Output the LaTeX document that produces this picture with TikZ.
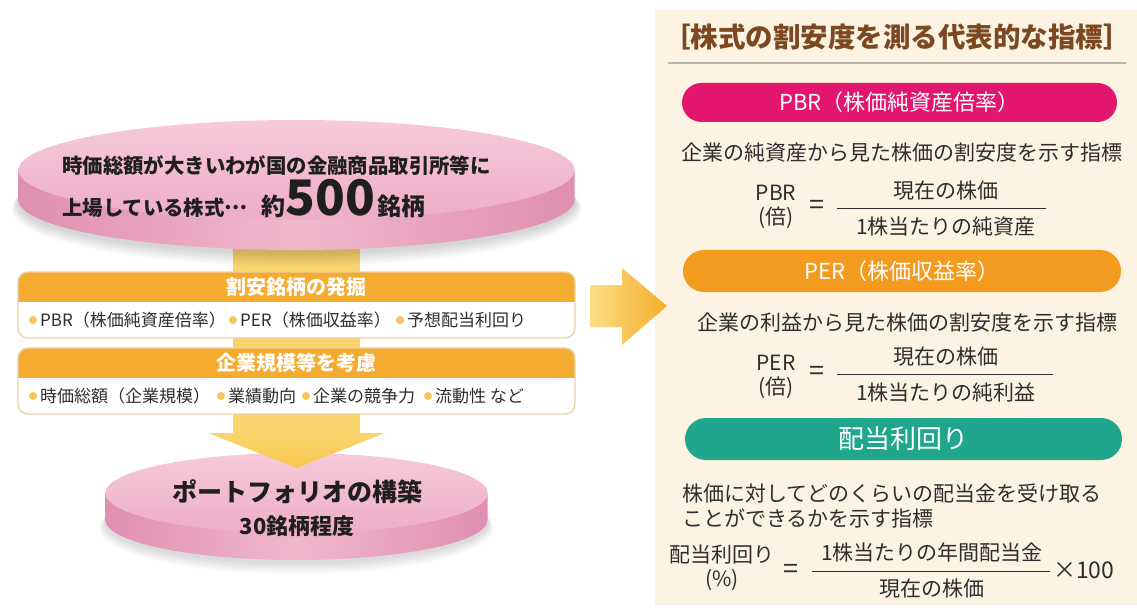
\documentclass[tikz,border=0pt]{standalone}
\usepackage{fontspec}
\setmainfont{Noto Sans CJK JP}
\newcommand\fsz[1]{\fontsize{#1}{#1}\selectfont}
\definecolor{pkTopA}{HTML}{F7CADB}
\definecolor{pkTopB}{HTML}{EDADC6}
\definecolor{pkRimA}{HTML}{E08FB0}
\definecolor{pkRimB}{HTML}{F0B8CD}
\definecolor{yelA}{HTML}{FAD56E}
\definecolor{yelB}{HTML}{F8C84E}
\definecolor{hdr}{HTML}{F5AA30}
\definecolor{boxline}{HTML}{EDD3A0}
\definecolor{dotc}{HTML}{F7C55A}
\definecolor{cream}{HTML}{FDF3E2}
\definecolor{brownT}{HTML}{7B4821}
\definecolor{pbrc}{HTML}{E2166F}
\definecolor{perc}{HTML}{F39B1F}
\definecolor{divc}{HTML}{1FA68D}
\definecolor{txt}{HTML}{2E2E2E}
\definecolor{rulec}{HTML}{B9B2A8}
\definecolor{arrA}{HTML}{FCDD84}
\definecolor{arrB}{HTML}{F4AE2C}
\begin{document}
\begin{tikzpicture}[x=1pt,y=-1pt,
  tx/.style={text=txt, inner sep=0pt, font=\fsz{21}},
  fm/.style={text=txt, inner sep=0pt, font=\fsz{21}},
  eqs/.style={text=txt, inner sep=0pt, font=\fsz{27}},
  itm/.style={text=txt, inner sep=0pt, font=\fsz{17}, anchor=west},
  hd/.style={text=white, inner sep=0pt, font=\bfseries\fsz{20}},
  pill/.style={text=white, inner sep=0pt, font=\fsz{22}},
  dk/.style={text=black!88, inner sep=0pt},
  bul/.style={fill=dotc}]
\useasboundingbox (0,0) rectangle (1137,612);
\fill[white] (0,0) rectangle (1137,612);

% ---------- right panel ----------
\fill[cream] (655,10) rectangle (1137,605);
\node[text=brownT, inner sep=0pt, font=\bfseries\fsz{27.5}] (title) at (897,37) {［株式の割安度を測る代表的な指標］};
\coordinate (ruleL) at (668,63);
\coordinate (ruleR) at (1126,63);
\draw[rulec, line width=1.2pt] (ruleL) -- (ruleR);

% PBR
\fill[pbrc, rounded corners=19.5] (682,83) rectangle (1117,122);
\node[pill] (pbrh) at (899.5,102.5) {PBR（株価純資産倍率）};
\node[tx] (pbrd) at (902,153) {企業の純資産から見た株価の割安度を示す指標};
\node[fm] (pbrl1) at (776,193) {PBR};
\node[fm] (pbrl2) at (776,218) {(倍)};
\node[eqs] (pbreq) at (817,207) {=};
\node[fm] (pbrn) at (946,191) {現在の株価};
\node[fm] (pbrdn) at (946,227) {1株当たりの純資産};
\coordinate (pbrA) at (837,208);
\coordinate (pbrB) at (1046,208);
\draw[txt, line width=0.9pt] (pbrA) -- (pbrB);

% PER
\fill[perc, rounded corners=21] (683,250) rectangle (1121,292);
\node[pill] (perh) at (902,271) {PER（株価収益率）};
\node[tx] (perd) at (907,323) {企業の利益から見た株価の割安度を示す指標};
\node[fm] (perl1) at (776,363) {PER};
\node[fm] (perl2) at (776,388) {(倍)};
\node[eqs] (pereq) at (817,373) {=};
\node[fm] (pern) at (946,357) {現在の株価};
\node[fm] (perdn) at (946,393) {1株当たりの純利益};
\coordinate (perA) at (837,374);
\coordinate (perB) at (1053,374);
\draw[txt, line width=0.9pt] (perA) -- (perB);

% dividend yield
\fill[divc, rounded corners=21] (685,418) rectangle (1122,460);
\node[pill, font=\fsz{26}] (divh) at (903,439) {配当利回り};
\node[tx, anchor=west] (divd1) at (682,493) {株価に対してどのくらいの配当金を受け取る};
\node[tx, anchor=west] (divd2) at (682,518) {ことができるかを示す指標};
\node[fm] (divl1) at (722,555) {配当利回り};
\node[fm] (divl2) at (722,580) {(\%)};
\node[eqs] (diveq) at (791,571) {=};
\node[fm] (divn) at (932,552) {1株当たりの年間配当金};
\node[fm] (divdn) at (932,589) {現在の株価};
\node[fm, font=\fsz{23}, anchor=west] (x100) at (1053,570) {×100};
\coordinate (divA) at (812,571);
\coordinate (divB) at (1050,571);
\draw[txt, line width=0.9pt] (divA) -- (divB);

% ---------- right arrow ----------
\shade[left color=arrA, right color=arrB] (590,285) -- (622,285) -- (622,268) -- (667,306) -- (622,345) -- (622,327) -- (590,327) -- cycle;

% ---------- bottom disk ----------
\foreach \i in {1,...,6}
  \fill[black, opacity=0.025] (296.5,522+\i) ellipse[x radius=191+\i, y radius=40+\i];
\shade[left color=pkRimA, right color=pkRimA, middle color=pkRimB]
  (105.5,493) -- (105.5,520) arc[start angle=180,end angle=0,x radius=191,y radius=40]
  -- (487.5,493) arc[start angle=0,end angle=180,x radius=191,y radius=40] -- cycle;
\shade[top color=pkTopA, bottom color=pkTopB] (296.5,493) ellipse[x radius=191, y radius=40];

% ---------- vertical arrow ----------
\fill[yelA] (233,238) rectangle (360,434);
\shade[top color=yelA, bottom color=yelB] (208,433) -- (385,433) -- (296.5,468) -- cycle;

\node[dk, font=\bfseries\fsz{25}] (pf) at (297,492) {ポートフォリオの構築};
\node[dk, font=\bfseries\fsz{22}] (n30) at (297,526) {30銘柄程度};

% ---------- top disk ----------
\foreach \i in {1,...,7}
  \fill[black, opacity=0.022] (296.5,202+\i) ellipse[x radius=278+\i, y radius=50+\i];
\shade[left color=pkRimA, right color=pkRimA, middle color=pkRimB]
  (18.5,170) -- (18.5,200) arc[start angle=180,end angle=0,x radius=278,y radius=50]
  -- (574.5,170) arc[start angle=0,end angle=180,x radius=278,y radius=50] -- cycle;
\shade[top color=pkTopA, bottom color=pkTopB] (296.5,170) ellipse[x radius=278, y radius=50];

\node[dk, font=\bfseries\fsz{20.4}, anchor=west] (l1) at (62,166) {時価総額が大きいわが国の金融商品取引所等に};
\node[dk, font=\bfseries\fsz{20.4}, anchor=base west] (l2) at (62,216) {上場している株式\raisebox{0.3em}{…}\hspace{14pt}{\fsz{24}約}{\fsz{49}500}\hspace{2pt}{\fsz{24}銘柄}};

% ---------- box 1 ----------
\begin{scope}
  \clip[rounded corners=10] (18,272) rectangle (575,338);
  \fill[white] (18,272) rectangle (575,338);
  \fill[hdr] (18,272) rectangle (575,302);
\end{scope}
\draw[boxline, line width=1.4pt, rounded corners=10] (18,272) rectangle (575,338);
\node[hd] (h1) at (296.5,287) {割安銘柄の発掘};
\fill[bul] (33,320) circle[radius=4];
\node[itm] (i11) at (40,320) {PBR（株価純資産倍率）};
\fill[bul] (233,320) circle[radius=4];
\node[itm] (i12) at (240,320) {PER（株価収益率）};
\fill[bul] (400,320) circle[radius=4];
\node[itm] (i13) at (407,320) {予想配当利回り};

% ---------- box 2 ----------
\begin{scope}
  \clip[rounded corners=10] (18,348) rectangle (575,414);
  \fill[white] (18,348) rectangle (575,414);
  \fill[hdr] (18,348) rectangle (575,378);
\end{scope}
\draw[boxline, line width=1.4pt, rounded corners=10] (18,348) rectangle (575,414);
\node[hd] (h2) at (296.5,363) {企業規模等を考慮};
\fill[bul] (33,396) circle[radius=4];
\node[itm] (i21) at (40,396) {時価総額（企業規模）};
\fill[bul] (221,396) circle[radius=4];
\node[itm] (i22) at (228,396) {業績動向};
\fill[bul] (306,396) circle[radius=4];
\node[itm] (i23) at (313,396) {企業の競争力};
\fill[bul] (428,396) circle[radius=4];
\node[itm] (i24) at (435,396) {流動性 など};
\end{tikzpicture}
\end{document}
